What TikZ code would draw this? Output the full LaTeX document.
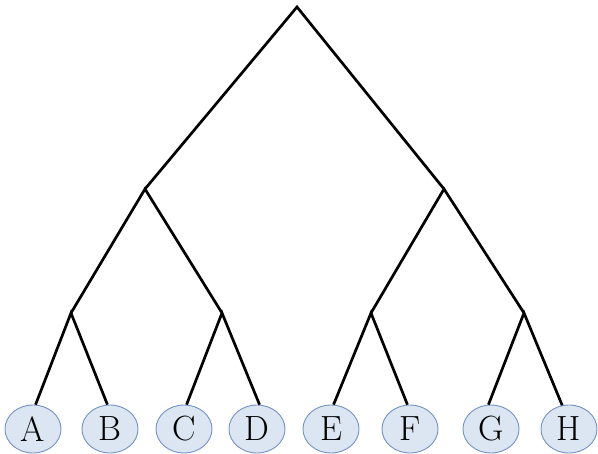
\documentclass[tikz,border=0pt]{standalone}
\usetikzlibrary{shapes.geometric}
\definecolor{leaffill}{RGB}{220,230,242}
\definecolor{leafdraw}{RGB}{115,145,195}
\begin{document}
\begin{tikzpicture}[x=1pt,y=-1pt,
  leaf/.style={ellipse,draw=leafdraw,fill=leaffill,line width=0.9pt,minimum width=56pt,minimum height=48pt,inner sep=0pt,font=\fontsize{35}{40}\selectfont},
  branch/.style={line width=2.7pt},
  jn/.style={coordinate}]
\useasboundingbox (0,0) rectangle (598,454);
\node[jn] (r) at (297,7) {};
\node[jn] (l1) at (145,189) {};
\node[jn] (r1) at (444,189) {};
\node[jn] (a1) at (71,313) {};
\node[jn] (a2) at (222,313) {};
\node[jn] (a3) at (371,313) {};
\node[jn] (a4) at (524,313) {};
\node[leaf] (A) at (33,429) {A};
\node[leaf] (B) at (110,429) {B};
\node[leaf] (C) at (184,429) {C};
\node[leaf] (D) at (257,429) {D};
\node[leaf] (E) at (331,429) {E};
\node[leaf] (F) at (410,429) {F};
\node[leaf] (G) at (491,429) {G};
\node[leaf] (H) at (569,429) {H};
\draw[branch] (l1) -- (r) -- (r1);
\draw[branch] (a1) -- (l1) -- (a2);
\draw[branch] (a3) -- (r1) -- (a4);
\draw[branch] (A.84) -- (a1) -- (B.96);
\draw[branch] (C.84) -- (a2) -- (D.84);
\draw[branch] (E.84) -- (a3) -- (F.96);
\draw[branch] (G.96) -- (a4) -- (H.106);
\end{tikzpicture}
\end{document}
